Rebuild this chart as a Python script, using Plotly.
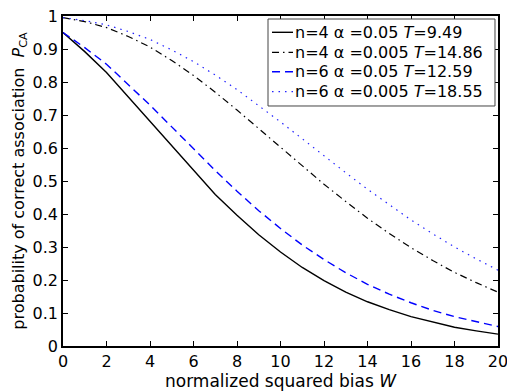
import plotly.graph_objects as go

W = list(range(0, 21))

p_n4_a05 = [0.950, 0.892, 0.829, 0.755, 0.680, 0.605, 0.530, 0.459, 0.396, 0.337, 0.285,
            0.238, 0.198, 0.163, 0.134, 0.110, 0.089, 0.072, 0.057, 0.046, 0.036]
p_n4_a005 = [0.995, 0.983, 0.965, 0.938, 0.906, 0.865, 0.820, 0.769, 0.715, 0.659, 0.602,
             0.546, 0.490, 0.438, 0.387, 0.341, 0.298, 0.259, 0.223, 0.192, 0.163]
p_n6_a05 = [0.950, 0.904, 0.854, 0.793, 0.730, 0.664, 0.597, 0.532, 0.469, 0.410, 0.356,
            0.306, 0.262, 0.222, 0.187, 0.157, 0.131, 0.108, 0.089, 0.073, 0.059]
p_n6_a005 = [0.995, 0.986, 0.973, 0.953, 0.929, 0.897, 0.862, 0.821, 0.777, 0.729, 0.679,
             0.628, 0.576, 0.525, 0.475, 0.428, 0.382, 0.340, 0.300, 0.264, 0.230]

names = ["n=4 α =0.05 <i>T</i>=9.49",
         "n=4 α =0.005 <i>T</i>=14.86",
         "n=6 α =0.05 <i>T</i>=12.59",
         "n=6 α =0.005 <i>T</i>=18.55"]

x_ticks = list(range(0, 21, 2))
y_ticks = [0, 0.1, 0.2, 0.3, 0.4, 0.5, 0.6, 0.7, 0.8, 0.9, 1]
y_ticktext = ["0", "0.1", "0.2", "0.3", "0.4", "0.5", "0.6", "0.7", "0.8", "0.9", "1"]

FONT = "DejaVu Sans, sans-serif"

series = [p_n4_a05, p_n4_a005, p_n6_a05, p_n6_a005]
styles = [dict(color="black", width=1.4, dash="solid"),
          dict(color="black", width=1.2, dash="7px,4px,1.5px,4px"),
          dict(color="#0000ff", width=1.4, dash="8px,5px"),
          dict(color="#2222ff", width=1.2, dash="1.5px,5px")]

fig = go.Figure()
for name, ys, st in zip(names, series, styles):
    fig.add_trace(go.Scatter(x=W, y=ys, mode="lines", name=name, line=st,
                             showlegend=False))

# legend box drawn in paper coordinates (MATLAB-style compact legend)
leg_x0, leg_x1, leg_y0, leg_y1 = 0.4713, 0.9931, 0.7273, 0.9909
row_y = [0.9506, 0.8900, 0.8312, 0.7706]
sample_x0, sample_x1, text_x = 0.4805, 0.5287, 0.5310

shapes = [dict(type="rect", xref="paper", yref="paper", x0=leg_x0, x1=leg_x1,
               y0=leg_y0, y1=leg_y1, line=dict(color="#444444", width=1),
               fillcolor="white", layer="above")]
annotations = []
for name, st, ry in zip(names, styles, row_y):
    shapes.append(dict(type="line", xref="paper", yref="paper", x0=sample_x0, x1=sample_x1,
                       y0=ry, y1=ry, line=st, layer="above"))
    annotations.append(dict(xref="paper", yref="paper", x=text_x, y=ry, xanchor="left",
                            yanchor="middle", text=name, showarrow=False, borderpad=0,
                            font=dict(family=FONT, size=16, color="black")))

axis_common = dict(showgrid=False, zeroline=False, showline=True, linecolor="black",
                   linewidth=1.5, mirror="ticks", ticks="inside", ticklen=5,
                   tickwidth=1, tickcolor="black", automargin=False,
                   ticklabeloverflow="allow",
                   tickfont=dict(family=FONT, size=16, color="black"))

fig.update_xaxes(range=[0, 20], tickvals=x_ticks,
                 title=dict(text="normalized squared bias <i>W</i>",
                            font=dict(family=FONT, size=17, color="black"), standoff=8),
                 **axis_common)
fig.update_yaxes(range=[0, 1], tickvals=y_ticks, ticktext=y_ticktext,
                 title=dict(text="probability of correct association  <i>P</i><sub>CA</sub>",
                            font=dict(family=FONT, size=16, color="black"), standoff=4),
                 **axis_common)

fig.update_layout(
    template="none",
    width=507, height=391,
    margin=dict(l=63, r=9, t=16, b=45),
    paper_bgcolor="white", plot_bgcolor="white",
    font=dict(family=FONT, size=16, color="black"),
    shapes=shapes, annotations=annotations,
    showlegend=False,
)

fig.write_html("out.html", config={"displayModeBar": False},
               post_script="document.body.style.margin='0';document.body.style.overflow='hidden';")
